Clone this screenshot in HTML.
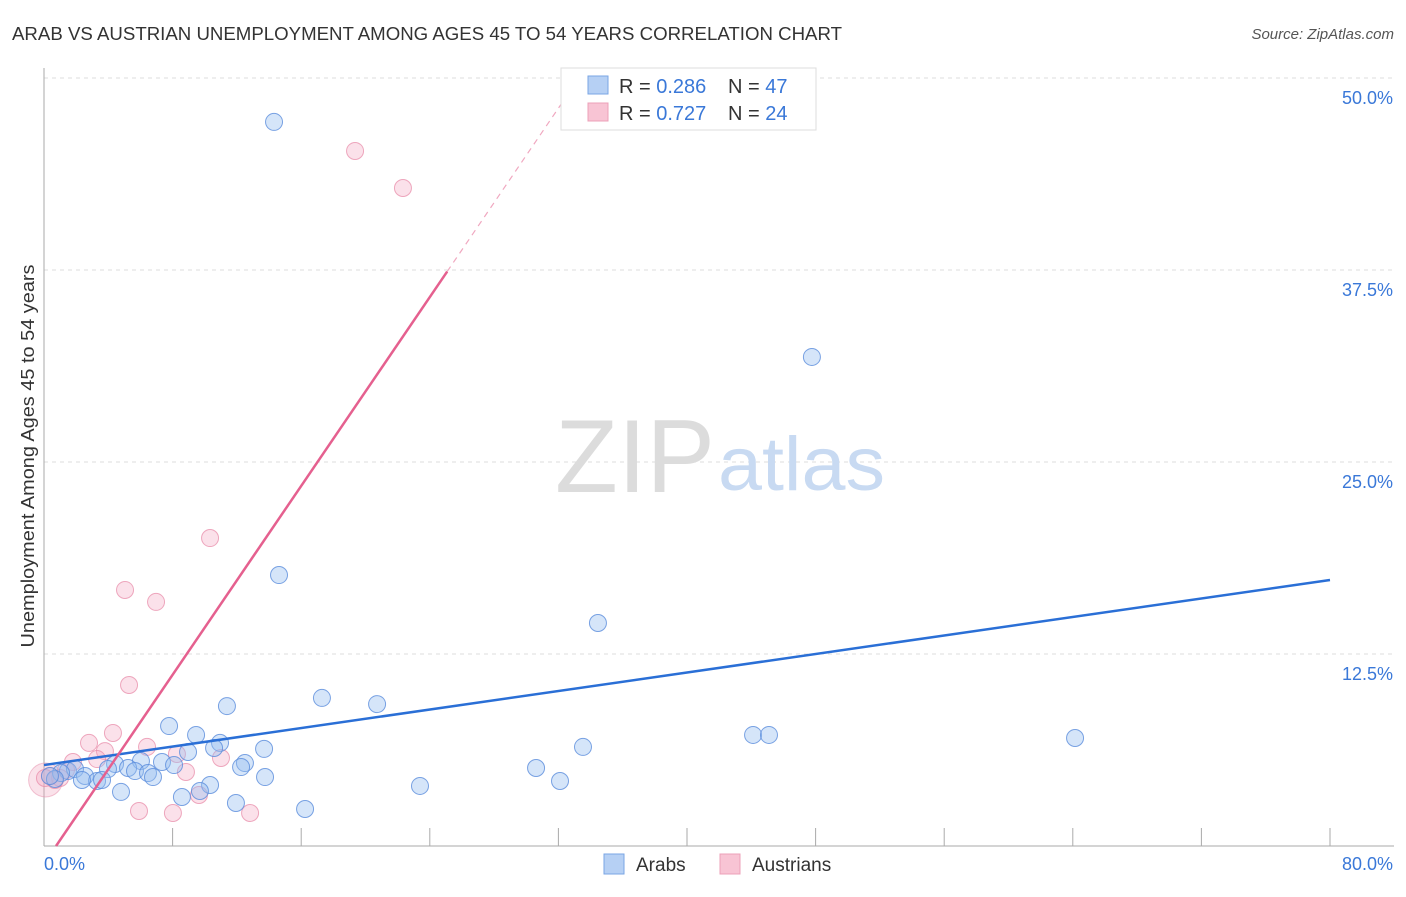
<!DOCTYPE html>
<html><head><meta charset="utf-8"><style>
body{margin:0;background:#fff;font-family:"Liberation Sans",sans-serif}
svg text{font-family:"Liberation Sans",sans-serif}
</style></head><body>
<svg id="chart" width="1406" height="892" viewBox="0 0 1406 892" xmlns="http://www.w3.org/2000/svg">
<text x="12" y="40" font-size="18" fill="#333" textLength="830" lengthAdjust="spacingAndGlyphs">ARAB VS AUSTRIAN UNEMPLOYMENT AMONG AGES 45 TO 54 YEARS CORRELATION CHART</text>
<text x="1394" y="39" font-size="15" fill="#555" text-anchor="end" font-style="italic">Source: ZipAtlas.com</text>
<g id="grid"></g>
<g>
<text x="555" y="492" font-size="104" fill="#dcdcdc" textLength="160" lengthAdjust="spacingAndGlyphs" font-family="Liberation Serif, serif">ZIP</text>
<text x="718" y="490" font-size="76" fill="#c8daf2" textLength="167" lengthAdjust="spacingAndGlyphs">atlas</text>
</g>
<g id="marks"></g>
<text transform="translate(34,456) rotate(-90)" font-size="18" fill="#333" text-anchor="middle" textLength="383" lengthAdjust="spacingAndGlyphs">Unemployment Among Ages 45 to 54 years</text>
<g>
<rect x="561" y="68" width="255" height="62" fill="#fff" stroke="#ddd"/>
<rect x="588" y="76" width="20" height="18" fill="#b6d0f4" stroke="#7aa6e4"/>
<rect x="588" y="103" width="20" height="18" fill="#f8c4d4" stroke="#eca0b8"/>
<text x="619" y="93" font-size="20" fill="#333">R = <tspan fill="#3a78d8">0.286</tspan></text>
<text x="728" y="93" font-size="20" fill="#333">N = <tspan fill="#3a78d8">47</tspan></text>
<text x="619" y="120" font-size="20" fill="#333">R = <tspan fill="#3a78d8">0.727</tspan></text>
<text x="728" y="120" font-size="20" fill="#333">N = <tspan fill="#3a78d8">24</tspan></text>
</g>
<g>
<rect x="604" y="854" width="20" height="20" fill="#b6d0f4" stroke="#7aa6e4"/>
<text x="636" y="871" font-size="19" fill="#333">Arabs</text>
<rect x="720" y="854" width="20" height="20" fill="#f8c4d4" stroke="#eca0b8"/>
<text x="752" y="871" font-size="19" fill="#333">Austrians</text>
</g>
</svg>
<script>
const yTicks=[12.5,25,37.5,50];
const yTickLabels=["12.5%","25.0%","37.5%","50.0%"];
const xTicks=[0,8,16,24,32,40,48,56,64,72,80];
const arabX=[14.31,47.77,14.62,34.46,17.29,20.72,11.38,7.78,9.46,44.11,45.10,64.14,10.95,10.58,13.69,33.53,6.03,7.34,8.96,8.09,12.50,12.26,4.42,5.23,5.66,3.98,6.47,6.78,1.49,1.93,1.06,2.55,3.30,3.61,2.36,13.75,30.61,32.10,10.33,23.39,4.79,8.58,9.70,11.94,16.24,0.68,0.37];
const arabY=[47.14,31.84,17.64,14.52,9.64,9.24,9.11,7.81,7.23,7.23,7.23,7.03,6.71,6.38,6.32,6.45,5.53,5.47,6.12,5.27,5.40,5.14,5.34,5.08,4.88,5.01,4.75,4.49,4.88,5.01,4.75,4.56,4.23,4.30,4.30,4.49,5.08,4.23,3.97,3.91,3.52,3.19,3.58,2.80,2.41,4.36,4.56];
const austX=[19.35,22.33,10.33,5.04,6.97,5.29,4.29,2.80,6.41,8.27,3.79,3.30,1.80,8.83,11.01,1.37,0.37,0.06,9.64,5.91,8.02,12.82,1.00,0.68];
const austY=[45.25,42.84,20.05,16.67,15.89,10.48,7.36,6.71,6.45,5.99,6.18,5.66,5.47,4.82,5.73,4.95,4.56,4.43,3.32,2.28,2.15,2.15,4.43,4.30];
const arabLine=[5.27,17.32];
const austSlope=1.537, austIntercept=-1.15;
const NS="http://www.w3.org/2000/svg";
const X0=44,X1=1330,Y0=846,Y50=78;
const sx=v=>X0+(X1-X0)*v/80;
const sy=v=>Y0-(Y0-Y50)*v/50;
function mk(t,a,p){const e=document.createElementNS(NS,t);for(const k in a)e.setAttribute(k,a[k]);p.appendChild(e);return e;}
const grid=document.getElementById('grid'),marks=document.getElementById('marks');
yTicks.forEach((v,i)=>{
  const l=mk('line',{x1:X0,x2:1394,y1:sy(v),y2:sy(v),stroke:'#ddd','stroke-dasharray':'4,4'},grid);
  
  
  const t=mk('text',{x:1393,y:sy(v)+26,'font-size':18,fill:'#3a78d8','text-anchor':'end'},grid);
  t.textContent=yTickLabels[i];
  
  
});
mk('line',{x1:X0,x2:X0,y1:68,y2:Y0,stroke:'#aaa'},grid);
mk('line',{x1:X0,x2:1394,y1:Y0,y2:Y0,stroke:'#aaa'},grid);
xTicks.forEach(v=>{if(v===0)return;const l=mk('line',{x1:sx(v),x2:sx(v),y1:Y0,y2:828,stroke:'#aaa'},grid);
  
  });
let t=mk('text',{x:44,y:870,'font-size':18,fill:'#3a78d8'},grid);t.textContent='0.0%';


t=mk('text',{x:1393,y:870,'font-size':18,fill:'#3a78d8','text-anchor':'end'},grid);t.textContent='80.0%';


let b=mk('circle',{cx:sx(0.1),cy:sy(4.3),r:17,fill:'rgba(240,160,185,0.3)',stroke:'rgba(230,140,170,0.5)'},marks);


austX.forEach((x,i)=>{const c=mk('circle',{cx:sx(x),cy:sy(austY[i]),r:8.5,fill:'rgba(244,170,195,0.35)',stroke:'rgba(232,140,170,0.75)'},marks);
  
  });
arabX.forEach((x,i)=>{const c=mk('circle',{cx:sx(x),cy:sy(arabY[i]),r:8.5,fill:'rgba(150,190,240,0.4)',stroke:'rgba(90,140,220,0.8)'},marks);
  
  });
let l=mk('line',{x1:sx(0),y1:sy(arabLine[0]),x2:sx(80),y2:sy(arabLine[1]),stroke:'#2a6fd6','stroke-width':2.5},marks);


const xa=-austIntercept/austSlope, xb=(37.4-austIntercept)/austSlope, xc=(50-austIntercept)/austSlope;
l=mk('line',{x1:sx(xa),y1:sy(0),x2:sx(xb),y2:sy(37.4),stroke:'#e5608f','stroke-width':2.5},marks);


l=mk('line',{x1:sx(xb),y1:sy(37.4),x2:sx(xc),y2:sy(50),stroke:'#f0a8c0','stroke-width':1.2,'stroke-dasharray':'6,5'},marks);


</script>
</body></html>
